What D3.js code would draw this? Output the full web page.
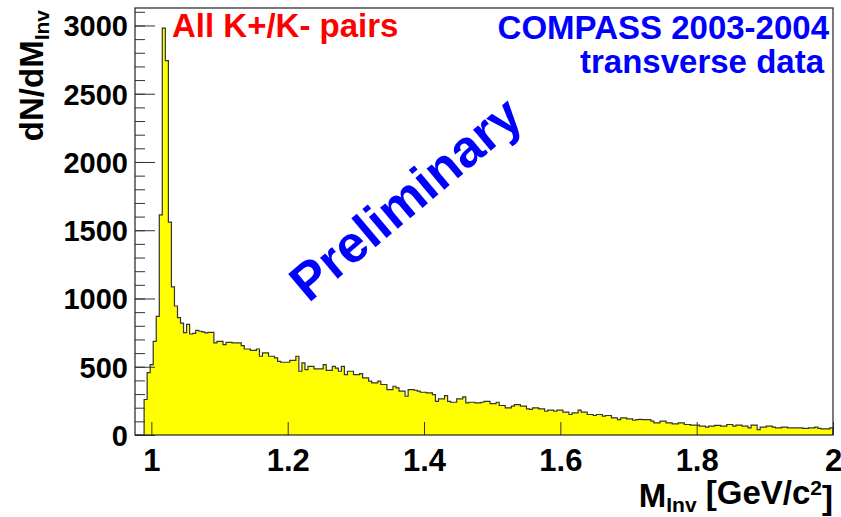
<!DOCTYPE html>
<html>
<head>
<meta charset="utf-8">
<script src="https://cdn.jsdelivr.net/npm/d3@7"></script>
<style>
  html, body { margin: 0; padding: 0; background: #fff; }
  svg { display: block; }
  text { font-family: "Liberation Sans", Arial, Helvetica, sans-serif; font-weight: bold; }
</style>
</head>
<body>
<svg id="chart" width="841" height="517"></svg>
<script>
// Invariant-mass histogram of K+/K- pairs, fixed-width bins between massLow and massHigh
const massLow = 0.976;
const massHigh = 2.0;
const counts = [
  0, 0, 0, 260, 457, 515, 686, 869, 1613, 2980,
  2742, 1560, 1085, 945, 860, 820, 750, 810, 740, 745,
  767, 760, 755, 748, 752, 752, 675, 686, 686, 662,
  679, 679, 675, 675, 675, 655, 630, 630, 620, 620,
  630, 577, 601, 601, 577, 577, 565, 540, 533, 533,
  533, 547, 547, 577, 467, 528, 479, 503, 503, 484,
  484, 484, 516, 474, 474, 503, 490, 467, 503, 443,
  467, 467, 443, 443, 450, 418, 418, 394, 382, 382,
  394, 370, 370, 333, 333, 357, 345, 321, 321, 284,
  333, 333, 328, 321, 313, 313, 309, 309, 296, 247,
  265, 265, 289, 247, 240, 240, 265, 265, 280, 236,
  240, 240, 236, 236, 240, 247, 247, 230, 230, 240,
  216, 216, 199, 199, 211, 223, 223, 211, 211, 192,
  187, 199, 199, 192, 192, 174, 182, 182, 174, 182,
  182, 167, 167, 150, 162, 162, 182, 167, 167, 150,
  150, 143, 150, 150, 138, 143, 143, 126, 126, 113,
  126, 126, 118, 118, 108, 112, 115, 113, 113, 113,
  101, 89, 89, 101, 101, 89, 89, 82, 82, 89,
  89, 77, 77, 72, 72, 72, 65, 65, 57, 65,
  65, 70, 70, 65, 65, 77, 77, 65, 72, 72,
  65, 65, 52, 72, 72, 40, 57, 57, 65, 65,
  57, 52, 52, 57, 57, 52, 52, 52, 52, 52,
  48, 48, 52, 52, 57, 48, 45, 45, 45, 52
];
const yMax = 3128;
const xTicks = [1.0, 1.2, 1.4, 1.6, 1.8, 2.0];
const yTicks = [0, 500, 1000, 1500, 2000, 2500, 3000];
const yMinorStep = 100;

const plot = { left: 135, top: 8, right: 833, bottom: 435 };

const svg = d3.select("#chart");

const x = d3.scaleLinear().domain([massLow, massHigh]).range([plot.left, plot.right]);
const y = d3.scaleLinear().domain([0, yMax]).range([plot.bottom, plot.top]);

const binWidth = (massHigh - massLow) / counts.length;
const bins = counts.map((c, i) => ({ x0: massLow + i * binWidth, v: c }));
// closing point so the last step reaches the upper edge
const steps = bins.concat([{ x0: massHigh, v: counts[counts.length - 1] }]);

// filled histogram
svg.append("path")
  .datum(steps)
  .attr("fill", "#ffff00")
  .attr("d", d3.area()
    .curve(d3.curveStepAfter)
    .x(d => x(d.x0))
    .y0(y(0))
    .y1(d => y(d.v)));

// histogram outline (drops to zero at both ends)
const outline = [{ x0: massLow, v: 0 }].concat(steps, [{ x0: massHigh, v: 0 }]);
svg.append("path")
  .datum(outline)
  .attr("fill", "none")
  .attr("stroke", "#333")
  .attr("stroke-width", 1.2)
  .attr("d", d3.line()
    .curve(d3.curveStepAfter)
    .x(d => x(d.x0))
    .y(d => y(d.v)));

// y axis: minor ticks every 100, major ticks with labels
const yMinor = d3.range(0, yMax, yMinorStep);
svg.append("g")
  .attr("transform", `translate(${plot.left},0)`)
  .call(d3.axisLeft(y).tickValues(yMinor).tickSize(-10).tickFormat(""))
  .call(g => g.select(".domain").remove())
  .call(g => g.selectAll("line").attr("stroke", "#333"));

const yAxis = svg.append("g")
  .attr("transform", `translate(${plot.left},0)`)
  .call(d3.axisLeft(y).tickValues(yTicks).tickSize(-20).tickPadding(7).tickFormat(d3.format("d")))
  .call(g => g.select(".domain").remove())
  .call(g => g.selectAll("line").attr("stroke", "#333"));
yAxis.selectAll("text")
  .attr("fill", "#000")
  .style("font-size", "29px")
  .style("font-family", "'Liberation Sans', Arial, sans-serif")
  .style("font-weight", "bold")
  .attr("dy", "0.36em");

// x axis
const xAxis = svg.append("g")
  .attr("transform", `translate(0,${plot.bottom})`)
  .call(d3.axisBottom(x).tickValues(xTicks).tickSize(-13).tickPadding(14).tickFormat(d3.format("~g")))
  .call(g => g.select(".domain").remove())
  .call(g => g.selectAll("line").attr("stroke", "#333"));
xAxis.selectAll("text")
  .attr("fill", "#000")
  .style("font-size", "31px")
  .style("font-family", "'Liberation Sans', Arial, sans-serif")
  .style("font-weight", "bold");

// frame
svg.append("rect")
  .attr("x", plot.left).attr("y", plot.top)
  .attr("width", plot.right - plot.left).attr("height", plot.bottom - plot.top)
  .attr("fill", "none").attr("stroke", "#222").attr("stroke-width", 1.2);

// axis titles
const xt = svg.append("text")
  .attr("x", 833).attr("y", 507)
  .attr("text-anchor", "end")
  .style("font-size", "33px");
xt.append("tspan").text("M");
xt.append("tspan").attr("dy", "0.26em").style("font-size", "21px").text("Inv");
xt.append("tspan").attr("dy", "-0.26em").text(" [GeV/c");
xt.append("tspan").attr("dy", "-0.42em").style("font-size", "21px").text("2");
xt.append("tspan").attr("dy", "0.42em").text("]");

const yt = svg.append("text")
  .attr("transform", "translate(43,10) rotate(-90)")
  .attr("text-anchor", "end")
  .style("font-size", "33px");
yt.append("tspan").text("dN/dM");
yt.append("tspan").attr("dy", "0.28em").style("font-size", "21px").text("Inv");

// annotations
svg.append("text")
  .attr("x", 172).attr("y", 37)
  .attr("fill", "#ff0000")
  .style("font-size", "33px")
  .text("All K+/K- pairs");

svg.append("text")
  .attr("x", 829).attr("y", 39)
  .attr("text-anchor", "end")
  .attr("fill", "#0000ff")
  .style("font-size", "33px")
  .text("COMPASS 2003-2004");

svg.append("text")
  .attr("x", 824).attr("y", 73)
  .attr("text-anchor", "end")
  .attr("fill", "#0000ff")
  .style("font-size", "33px")
  .text("transverse data");

svg.append("text")
  .attr("transform", "translate(405,198) rotate(-40)")
  .attr("text-anchor", "middle")
  .attr("dy", "0.36em")
  .attr("fill", "#0000ff")
  .style("font-size", "52px")
  .text("Preliminary");
</script>
</body>
</html>
